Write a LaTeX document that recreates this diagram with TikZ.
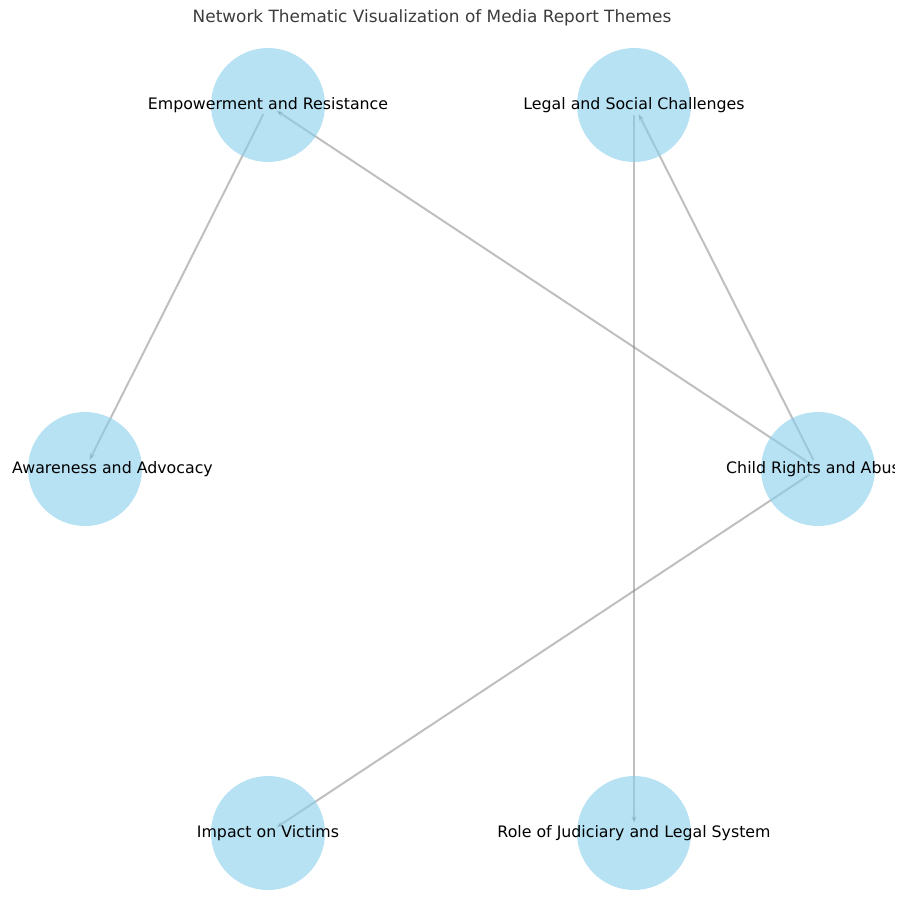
\documentclass[tikz,border=0pt]{standalone}
\usepackage{fontspec}
\setmainfont{DejaVu Sans}
\usetikzlibrary{arrows.meta}
\definecolor{nodeblue}{RGB}{135,206,235}
\definecolor{edgegray}{RGB}{128,128,128}
\definecolor{titlegray}{RGB}{60,60,60}
\tikzset{
  theme/.style={circle, fill=nodeblue, fill opacity=0.6, minimum size=114pt, inner sep=0pt},
  lbl/.style={font=\fontsize{15.8}{18}\selectfont, text=black, inner sep=0pt},
  link/.style={draw=edgegray, draw opacity=0.5, line width=2pt, shorten <=10pt, shorten >=10pt,
    -{Stealth[length=7pt,width=5pt]}},
}
\begin{document}
\begin{tikzpicture}[x=1pt,y=-1pt]
\useasboundingbox (0,0) rectangle (903,918);
\clip (0,0) rectangle (903,918);
\node[font=\fontsize{16.9}{20}\selectfont, text=titlegray] (title) at (432,18) {Network Thematic Visualization of Media Report Themes};
% coordinates of centres
\coordinate (cE) at (268,105);
\coordinate (cL) at (634,105);
\coordinate (cA) at (85,469);
\coordinate (cC) at (818,469);
\coordinate (cI) at (268,833);
\coordinate (cR) at (634,833);
% edges
\draw[link] (cE) -- (cA);
\draw[link] (cC) -- (cE);
\draw[link] (cC) -- (cL);
\draw[link] (cL) -- (cR);
\draw[link] (cC) -- (cI);
% nodes
\node[theme] (nE) at (cE) {};
\node[theme] (nL) at (cL) {};
\node[theme] (nA) at (cA) {};
\node[theme] (nC) at (cC) {};
\node[theme] (nI) at (cI) {};
\node[theme] (nR) at (cR) {};
% labels
\node[lbl] (tE) at (cE) {Empowerment and Resistance};
\node[lbl] (tL) at (cL) {Legal and Social Challenges};
\node[lbl, anchor=west] (tA) at (12,469) {Awareness and Advocacy};
\begin{scope}
\clip (0,0) rectangle (894,918);
\node[lbl, anchor=west] (tC) at (726,469) {Child Rights and Abuse};
\end{scope}
\node[lbl] (tI) at (cI) {Impact on Victims};
\node[lbl] (tR) at (cR) {Role of Judiciary and Legal System};
\end{tikzpicture}
\end{document}
